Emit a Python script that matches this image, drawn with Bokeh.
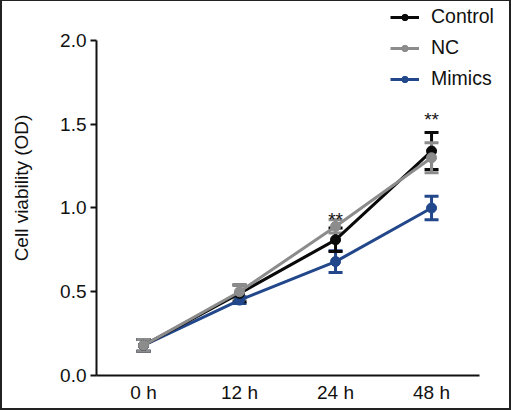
from bokeh.plotting import figure
from bokeh.models import (ColumnDataSource, Range1d, Whisker, TeeHead, InlineStyleSheet,
                          Legend, LegendItem, FixedTicker, PrintfTickFormatter)
from bokeh.embed import file_html
from bokeh.resources import INLINE
from bokeh.core.properties import value

# ---- data ----
times = ["0 h", "12 h", "24 h", "48 h"]
control = [0.18, 0.49, 0.81, 1.34]
control_err = [0.035, 0.05, 0.07, 0.11]
nc = [0.18, 0.50, 0.89, 1.30]
nc_err = [0.035, 0.04, 0.04, 0.09]
mimics = [0.18, 0.45, 0.68, 1.00]
mimics_err = [0.035, 0.02, 0.065, 0.07]
sig_times = ["24 h", "48 h"]
sig_y = [0.955, 1.552]
sig_text = ["**", "**"]
y_ticks = [0, 0.5, 1.0, 1.5, 2.0]

pos = {t: i for i, t in enumerate(times)}
xs = [pos[t] for t in times]

FONT = "Liberation Sans"
FS = "19px"

p = figure(width=511, height=410, x_range=Range1d(-0.49, 3.812),
           y_range=Range1d(0, 2.2388), output_backend="svg", toolbar_location=None,
           title=None, min_border_left=96, min_border_right=2, min_border_top=0,
           min_border_bottom=35)
p.outline_line_color = None
p.grid.visible = False
p.background_fill_color = "white"
p.border_fill_color = "white"
p.stylesheets = [InlineStyleSheet(css=(
    ":host { position: relative; } "
    ":host::after { content: ''; position: absolute; left: 0; top: 0; right: 0; bottom: 0; "
    "border: 2px solid #222222; border-top-width: 1px; box-sizing: border-box; "
    "pointer-events: none; z-index: 100; }"))]

series = [
    ("Mimics", mimics, mimics_err, "#22478b"),
    ("Control", control, control_err, "#0a0a0a"),
    ("NC", nc, nc_err, "#8c8c8c"),
]
items = {}
for name, vals, errs, col in series:
    src = ColumnDataSource(dict(x=xs, y=vals,
                                lo=[v - e for v, e in zip(vals, errs)],
                                hi=[v + e for v, e in zip(vals, errs)]))
    ln = p.line("x", "y", source=src, line_color=col, line_width=3)
    w = Whisker(source=src, base="x", lower="lo", upper="hi", dimension="height",
                line_color=col, line_width=3,
                lower_head=TeeHead(size=14, line_color=col, line_width=3),
                upper_head=TeeHead(size=14, line_color=col, line_width=3))
    p.add_layout(w)
    sc = p.scatter("x", "y", source=src, size=10, fill_color=col, line_color=col)
    items[name] = [ln, sc]

p.text(x=[pos[t] for t in sig_times], y=sig_y, text=sig_text, text_font=value(FONT),
       text_font_size=FS, text_align="center", text_baseline="middle",
       y_offset=4, text_color="#111111")

legend = Legend(items=[LegendItem(label=n, renderers=items[n]) for n in ["Control", "NC", "Mimics"]],
                location=(294, 285), padding=0, margin=0, spacing=8,
                glyph_width=29, glyph_height=16, label_height=16, label_standoff=12,
                label_text_font=FONT, label_text_font_size="19.5px", label_text_color="#111111",
                border_line_color=None, background_fill_alpha=0)
p.add_layout(legend, "center")

p.yaxis.bounds = (0, 2)
p.yaxis.ticker = FixedTicker(ticks=y_ticks)
p.yaxis.formatter = PrintfTickFormatter(format="%.1f")
p.yaxis.axis_label = "Cell viability (OD)"
p.yaxis.axis_label_text_font = FONT
p.yaxis.axis_label_text_font_size = FS
p.yaxis.axis_label_text_font_style = "normal"
p.yaxis.axis_label_text_color = "#111111"
p.yaxis.axis_label_standoff = 25
p.yaxis.major_tick_out = 6
p.yaxis.major_tick_in = 0
p.yaxis.minor_tick_line_color = None
p.yaxis.major_label_standoff = 4

p.xaxis.bounds = (-0.49, 3.5)
p.xaxis.ticker = FixedTicker(ticks=xs)
p.xaxis.major_label_overrides = {i: t for i, t in enumerate(times)}
p.xaxis.minor_tick_line_color = None
p.xaxis.major_tick_out = 0
p.xaxis.major_tick_in = 0
p.xaxis.major_label_standoff = 6

for ax in (p.xaxis, p.yaxis):
    ax.axis_line_width = 2
    ax.axis_line_color = "#111111"
    ax.major_tick_line_width = 2
    ax.major_label_text_font = FONT
    ax.major_label_text_font_size = FS
    ax.major_label_text_color = "#111111"
p.yaxis.major_tick_line_color = "#111111"
p.xaxis.major_tick_line_color = None

open("out.html", "w").write(file_html(p, INLINE))
